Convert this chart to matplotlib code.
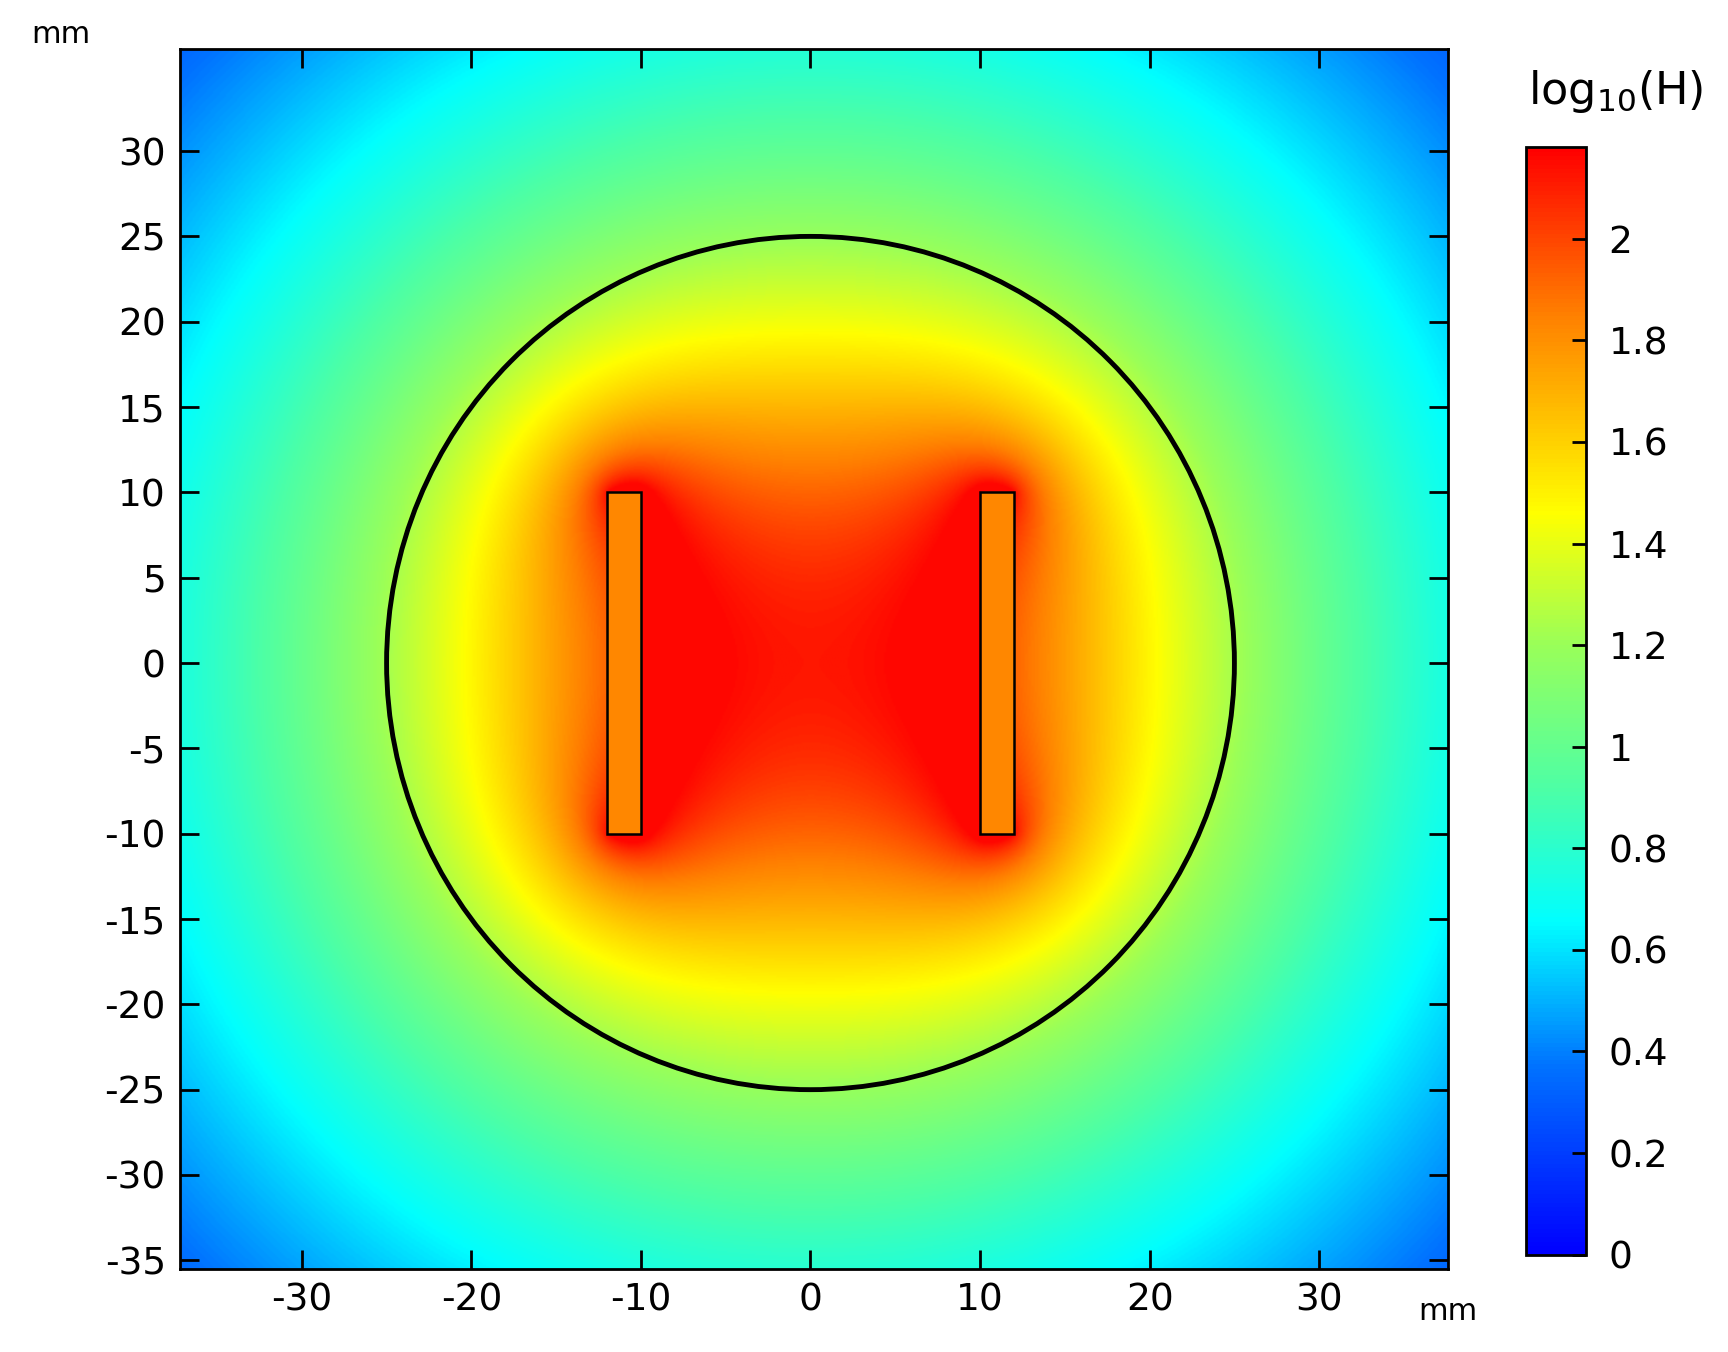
import numpy as np
import matplotlib
matplotlib.use("Agg")
import matplotlib.pyplot as plt
from matplotlib.colors import LinearSegmentedColormap
from matplotlib.patches import Rectangle, Circle

plt.rcParams["axes.unicode_minus"] = False

# geometry (mm): coil conductors with opposite currents
magnet_x = [-12.0, 10.0]   # left edges
magnet_sign = [1.0, -1.0]
magnet_w = 2.0
magnet_y = [-10.0, 10.0]
magnet_value = 1.83        # log10(H) inside the conductors
circle_r = 25.0
x_range = [-37.2, 37.6]
y_range = [-35.5, 36.0]
center_log = 2.12
decay_gain = 1.42
cbar_ticks = [0, 0.2, 0.4, 0.6, 0.8, 1, 1.2, 1.4, 1.6, 1.8, 2]
xticks = [-30, -20, -10, 0, 10, 20, 30]
yticks = [-35, -30, -25, -20, -15, -10, -5, 0, 5, 10, 15, 20, 25, 30]
vmin, vmax = 0.0, 2.18

def seg_field(X, Y, a, y1, y2, s):
    dx = X - a
    ex = np.arctan2(Y - y1, dx) - np.arctan2(Y - y2, dx)
    ex = np.where(ex > np.pi, ex - 2 * np.pi, ex)
    ex = np.where(ex < -np.pi, ex + 2 * np.pi, ex)
    ey = 0.5 * np.log((dx**2 + (Y - y1)**2 + 1e-9) / (dx**2 + (Y - y2)**2 + 1e-9))
    return s * ex, s * ey

def total_field(X, Y, n=24):
    Hx = np.zeros_like(X); Hy = np.zeros_like(X)
    for left, sg in zip(magnet_x, magnet_sign):
        for k in range(n):
            a = left + (k + 0.5) * magnet_w / n
            fx, fy = seg_field(X, Y, a, magnet_y[0], magnet_y[1], sg / n)
            Hx += fx; Hy += fy
    return np.sqrt(Hx**2 + Hy**2)

xs = np.linspace(x_range[0], x_range[1], 800) + 1e-3
ys = np.linspace(y_range[0], y_range[1], 800) + 1e-3
X, Y = np.meshgrid(xs, ys)
H = total_field(X, Y)
h0 = float(total_field(np.array([1e-3]), np.array([1e-3]))[0])
L = decay_gain * np.log10(H / h0) + center_log
L = np.minimum(L, center_log + 0.04)
for left in magnet_x:
    inside = (X >= left) & (X <= left + magnet_w) & (Y >= magnet_y[0]) & (Y <= magnet_y[1])
    L[inside] = magnet_value

cmap = LinearSegmentedColormap.from_list("rainbow", [
    (0.0, (0.0, 0.0, 1.0)),
    (0.17, (0.0, 0.45, 1.0)),
    (0.30, (0.0, 1.0, 1.0)),
    (0.42, (0.3, 1.0, 0.65)),
    (0.55, (0.6, 1.0, 0.35)),
    (0.67, (1.0, 1.0, 0.0)),
    (0.85, (1.0, 0.5, 0.0)),
    (1.0, (1.0, 0.0, 0.0)),
])

fig = plt.figure(figsize=(17.28, 13.52), dpi=100)
ax = fig.add_axes([0.104, 0.0615, 0.734, 0.9025])
im = ax.imshow(L, extent=[x_range[0], x_range[1], y_range[0], y_range[1]], origin="lower",
               cmap=cmap, vmin=vmin, vmax=vmax, interpolation="bilinear", aspect="auto")
for left in magnet_x:
    ax.add_patch(Rectangle((left, magnet_y[0]), magnet_w, magnet_y[1] - magnet_y[0],
                           fill=False, ec="black", lw=1.8))
ax.add_patch(Circle((0, 0), circle_r, fill=False, ec="black", lw=3.5))
ax.set_xlim(x_range); ax.set_ylim(y_range)
ax.set_xticks(xticks); ax.set_yticks(yticks)
ax.tick_params(direction="in", top=True, right=True, length=14, width=2, labelsize=27, pad=10)
for s in ax.spines.values():
    s.set_linewidth(2)
ax.text(-0.117, 1.0, "mm", transform=ax.transAxes, fontsize=22, ha="left", va="bottom")
ax.text(1.0, -0.035, "mm", transform=ax.transAxes, fontsize=22, ha="center", va="center")

cax = fig.add_axes([0.883, 0.072, 0.035, 0.819])
cb = fig.colorbar(im, cax=cax, ticks=cbar_ticks)
cb.ax.set_yticklabels([f"{t:g}" for t in cbar_ticks])
cb.ax.tick_params(direction="in", length=10, width=2, labelsize=27, pad=16)
cb.outline.set_linewidth(2)
fig.text(0.935, 0.915, r"log$_{10}$(H)", fontsize=32, ha="center", va="bottom")
fig.savefig("out.png", dpi=100)
